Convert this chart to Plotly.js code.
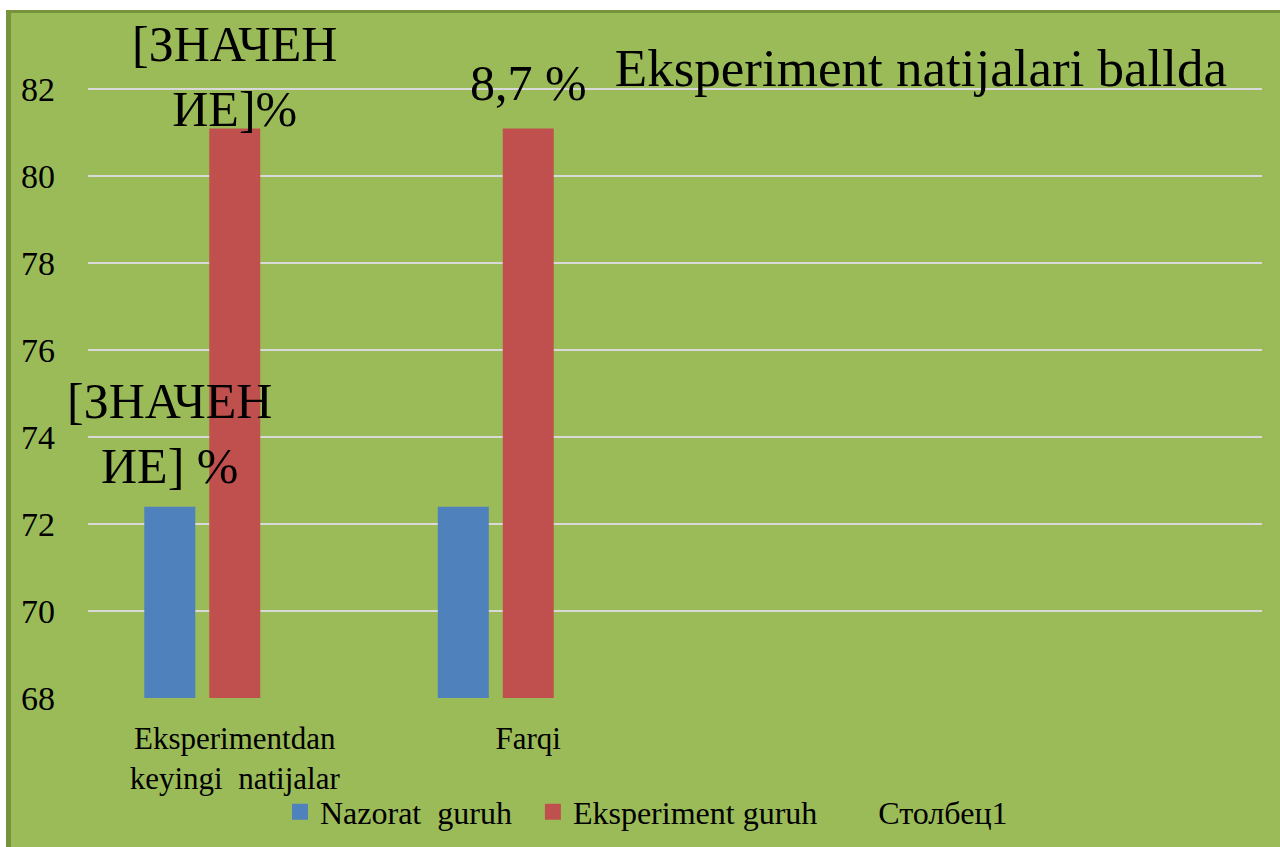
<!DOCTYPE html>
<html>
<head>
<meta charset="utf-8">
<script src="https://cdn.plot.ly/plotly-3.0.1.min.js"></script>
<style>
  html, body { margin: 0; padding: 0; background: #ffffff; overflow: hidden; }
  #frame {
    position: absolute; left: 6px; top: 10px;
    width: 1274px; height: 837px;
    box-sizing: border-box;
    border-left: 5px solid #77933C;
    border-top: 3px solid #77933C;
    background: #9BBB59;
  }
  #chart { width: 1269px; height: 834px; }
</style>
</head>
<body>
<div id="frame"><div id="chart"></div></div>
<script>
// Categories on the x axis (two labelled groups, two empty slots)
const categories = ["Eksperimentdan<br>keyingi\u00A0 natijalar", "Farqi", "", ""];

// Series names and values (ball)
const seriesNames = ["Nazorat\u00A0 guruh\u00A0\u00A0", "Eksperiment guruh\u00A0\u00A0", "Столбец1"];
const nazoratGuruh = [72.4, 72.4, null, null];
const eksperimentGuruh = [81.1, 81.1, null, null];
const stolbets1 = [null, null, null, null];

// Data label texts
const nazoratLabels = ["[ЗНАЧЕН<br>ИЕ] %", "", "", ""];
const eksperimentLabels = ["[ЗНАЧЕН<br>ИЕ]%", "8,7 %", "", ""];

// Y axis ticks
const yTicks = [68, 70, 72, 74, 76, 78, 80, 82];

const serif = "Liberation Serif, Times New Roman, serif";
const seriesColors = ["#4F81BD", "#C0504D", "rgba(0,0,0,0)"];
const seriesValues = [nazoratGuruh, eksperimentGuruh, stolbets1];
const xIdx = categories.map((_, i) => i);
const BARGAP = 0.336;

// Bars (legend entries are drawn by separate square-marker traces)
const traces = seriesValues.map((vals, s) => ({
  type: "bar", name: seriesNames[s],
  x: xIdx, y: vals,
  marker: { color: seriesColors[s] },
  showlegend: false, hoverinfo: "skip"
}));

seriesNames.forEach((name, s) => {
  traces.push({
    type: "scatter", mode: "markers", name: name,
    x: [null], y: [null],
    marker: { symbol: "square", size: 18, color: seriesColors[s] },
    showlegend: true, hoverinfo: "skip"
  });
});

// Data labels sit on top of every bar, so they are annotations
const labelFont = { family: serif, size: 50, color: "#000000" };
const slot = (1 - BARGAP) / seriesValues.length;
const annotations = [];
[[nazoratLabels, nazoratGuruh, 0, [11, 0]], [eksperimentLabels, eksperimentGuruh, 1, [-10, 16]]]
  .forEach(([labels, vals, s, shifts]) => {
    labels.forEach((txt, i) => {
      if (!txt || vals[i] == null) return;
      annotations.push({
        xref: "x", yref: "y",
        x: i + (s - (seriesValues.length - 1) / 2) * slot,
        y: vals[i],
        text: txt, showarrow: false,
        xanchor: "center", yanchor: "bottom",
        yshift: shifts[i] || 0,
        font: labelFont
      });
    });
  });

const layout = {
  width: 1269, height: 834,
  paper_bgcolor: "#9BBB59",
  plot_bgcolor: "#9BBB59",
  margin: { l: 77, r: 18, t: 33, b: 149 },
  barmode: "group",
  bargap: BARGAP,
  bargroupgap: 0.215,
  font: { family: serif, color: "#000000" },
  title: {
    text: "Eksperiment natijalari ballda",
    font: { family: serif, size: 53, color: "#000000" },
    xref: "paper", x: 0.7095, xanchor: "center",
    yref: "paper", y: 0.967, yanchor: "middle"
  },
  xaxis: {
    type: "linear",
    range: [-0.5, categories.length - 0.5],
    tickmode: "array",
    tickvals: xIdx,
    ticktext: categories,
    showgrid: false, zeroline: false, showline: false,
    ticks: "",
    ticklabelstandoff: 19,
    tickfont: { family: serif, size: 31, color: "#000000" },
    fixedrange: true
  },
  yaxis: {
    range: [68, 83],
    tickmode: "array",
    tickvals: yTicks,
    showgrid: true, gridcolor: "#D9D9D9", gridwidth: 2,
    zeroline: false, showline: false,
    ticks: "",
    ticklabelstandoff: 32,
    tickfont: { family: serif, size: 34, color: "#000000" },
    fixedrange: true
  },
  annotations: annotations,
  showlegend: true,
  legend: {
    orientation: "h",
    xref: "paper", x: 0.4757, xanchor: "center",
    yref: "container", y: 0.042, yanchor: "middle",
    bgcolor: "rgba(0,0,0,0)",
    font: { family: serif, size: 32, color: "#000000" },
    traceorder: "normal",
    itemsizing: "trace"
  }
};

Plotly.newPlot("chart", traces, layout, { displayModeBar: false, staticPlot: true });
</script>
</body>
</html>
